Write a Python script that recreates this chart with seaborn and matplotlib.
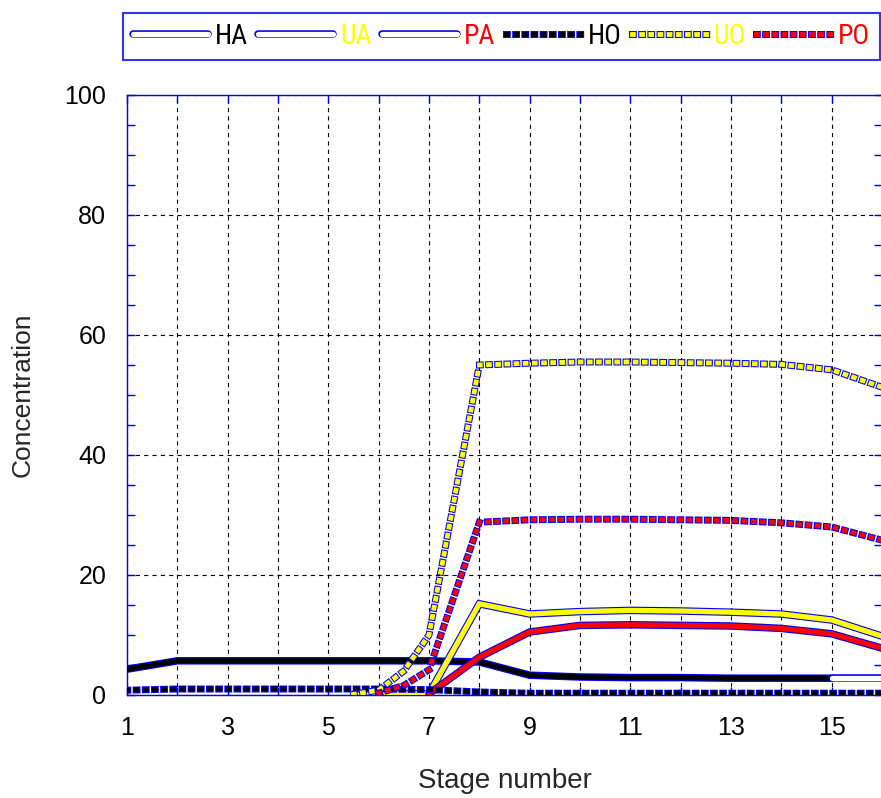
import numpy as np
import matplotlib
matplotlib.use("Agg")
import matplotlib.pyplot as plt
import matplotlib.patheffects as pe
from matplotlib.lines import Line2D
from matplotlib.ticker import MultipleLocator
from matplotlib import font_manager
import seaborn as sns

# Aqueous phase (solid lines), one value per stage
stage = [1, 2, 3, 4, 5, 6, 7, 8, 9, 10, 11, 12, 13, 14, 15, 16]
HA = [4.3, 5.7, 5.7, 5.7, 5.7, 5.7, 5.7, 5.5, 3.3, 3.0, 2.9, 2.9, 2.8, 2.8, 2.8, 2.8]
UA = [np.nan, np.nan, np.nan, np.nan, np.nan, 0.2, 0.2, 15.2, 13.5, 13.9, 14.1, 14.0, 13.8, 13.5, 12.5, 9.8]
PA = [np.nan, np.nan, np.nan, np.nan, np.nan, np.nan, 0.2, 6.3, 10.5, 11.6, 11.7, 11.6, 11.5, 11.1, 10.2, 7.8]

# Organic phase (dashed lines), with extra points around the loading front
stage_org = [1, 2, 3, 4, 5, 5.5, 6, 6.5, 7, 8, 9, 10, 11, 12, 13, 14, 15, 16]
HO = [0.8, 1.0, 1.0, 1.0, 1.0, 1.0, 1.0, 0.95, 0.9, 0.5, 0.3, 0.3, 0.3, 0.3, 0.3, 0.3, 0.3, 0.3]
UO = [np.nan, np.nan, np.nan, np.nan, np.nan, 0.1, 0.8, 4.0, 10.0, 55.0, 55.3, 55.5, 55.5, 55.4, 55.3, 55.1, 54.2, 51.3]
PO = [np.nan, np.nan, np.nan, np.nan, np.nan, np.nan, 0.3, 1.6, 4.2, 28.8, 29.2, 29.3, 29.3, 29.2, 29.1, 28.7, 28.0, 25.8]

labels = ["HA", "UA", "PA", "HO", "UO", "PO"]
label_colors = ["black", "#ffff00", "#ff0000", "black", "#ffff00", "#ff0000"]
xtick_labels = ["1", "", "3", "", "5", "", "7", "", "9", "", "11", "", "13", "", "15", ""]

BLUE = "#0000ee"

sns.set_style("white")
plt.rcParams["font.family"] = ["Liberation Sans", "DejaVu Sans"]
plt.rcParams["lines.scale_dashes"] = False

# narrow face for the key, if one is available
installed = {f.name for f in font_manager.fontManager.ttflist}
narrow = [n for n in ["Liberation Sans Narrow", "Roboto Condensed", "DejaVu Sans Condensed",
                      "Open Sans Condensed", "Noto Sans Condensed"] if n in installed]
key_family = narrow[:1] + ["Roboto", "Liberation Sans"]

fig = plt.figure(figsize=(8.81, 7.98), dpi=100)
ax = fig.add_axes([127 / 881, 103 / 798, 755 / 881, 600 / 798])

solid_pe = [pe.Stroke(linewidth=5.4, foreground=BLUE), pe.Normal()]
dash_pe = [pe.Stroke(linewidth=5.0, foreground=BLUE, capstyle="projecting"), pe.Normal()]
dash_style = (0, (0.6, 6.0))


def solid(x, y, color):
    sns.lineplot(x=x, y=y, ax=ax, color=color, linewidth=3.8, sort=False,
                 solid_joinstyle="miter", path_effects=solid_pe, zorder=4)


def dashed(x, y, color):
    sns.lineplot(x=x, y=y, ax=ax, color=color, linewidth=3.5, sort=False,
                 linestyle=dash_style, dash_capstyle="projecting",
                 path_effects=dash_pe, zorder=5)


dashed(stage_org, HO, "black")
solid(stage[:15], HA[:15], "black")
solid(stage[14:], HA[14:], "white")
dashed(stage_org, UO, "#ffff00")
dashed(stage_org, PO, "#ff0000")
solid(stage, UA, "#ffff00")
solid(stage, PA, "#ff0000")

ax.set_xlim(1, 16)
ax.set_ylim(0, 100)
ax.set_xticks(stage)
ax.set_xticklabels(xtick_labels)
ax.set_yticks([0, 20, 40, 60, 80, 100])
ax.yaxis.set_minor_locator(MultipleLocator(5))
ax.tick_params(which="both", direction="in", color=BLUE, length=6, width=1,
               left=True, bottom=True, top=True, right=True,
               labelsize=18, labelcolor="black")
ax.tick_params(axis="x", pad=15)
ax.tick_params(axis="y", pad=15)
ax.tick_params(which="minor", length=6)
for s in ax.spines.values():
    s.set_color(BLUE)
    s.set_linewidth(1.0)
ax.grid(True, which="major", color="black", linestyle=(0, (3, 3)), linewidth=0.8)
ax.set_axisbelow(True)

ax.set_xlabel("Stage number", fontsize=20, va="center")
ax.xaxis.set_label_coords(0.5, -(781 - 695) / 600)
ax.set_ylabel("Concentration", fontsize=19, va="center")
ax.yaxis.set_label_coords(-(127 - 23) / 755, 0.5)

handles = []
for i, c in enumerate(label_colors):
    if i < 3:
        handles.append(Line2D([], [], color="white", linewidth=3.8, path_effects=solid_pe))
    else:
        handles.append(Line2D([], [], color=c, linewidth=3.5, linestyle=dash_style,
                              dash_capstyle="projecting", path_effects=dash_pe))

leg = fig.legend(handles, labels, loc="center", ncol=6, mode="expand",
                 bbox_to_anchor=(123 / 881, 1 - 60 / 798, 757 / 881, 47 / 798),
                 prop={"family": key_family, "size": 20, "stretch": "condensed"},
                 labelcolor=label_colors, handlelength=2.7, handletextpad=0.25,
                 columnspacing=0.6, borderpad=0.35, borderaxespad=0, fancybox=False,
                 frameon=True)
leg.get_frame().set_edgecolor(BLUE)
leg.get_frame().set_linewidth(1.5)

fig.savefig("out.png", dpi=100)
